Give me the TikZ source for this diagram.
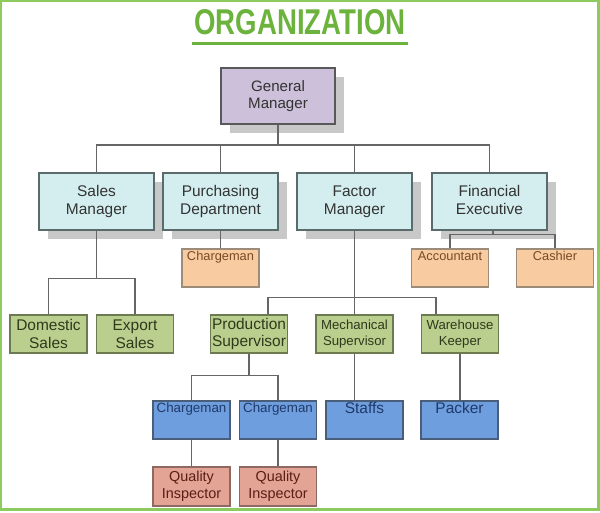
\documentclass[tikz,border=0pt]{standalone}
\usepackage{fontspec}
\setmainfont{Liberation Sans}
\usetikzlibrary{positioning,calc,shadows}
\definecolor{frame}{HTML}{8DCB5E}
\definecolor{ttl}{HTML}{6CB33E}
\definecolor{gmfill}{HTML}{CCC0DA}
\definecolor{cyanfill}{HTML}{D4EEF0}
\definecolor{boxline}{HTML}{5A6B6B}
\definecolor{shade}{HTML}{C8C8C8}
\definecolor{orng}{HTML}{F8CBA0}
\definecolor{orline}{HTML}{9C8B78}
\definecolor{orngtxt}{HTML}{7A4A25}
\definecolor{grn}{HTML}{BACF8E}
\definecolor{grline}{HTML}{6B7A50}
\definecolor{grtxt}{HTML}{2E3A1C}
\definecolor{blu}{HTML}{6E9EDD}
\definecolor{blline}{HTML}{4A5E7A}
\definecolor{bltxt}{HTML}{1F3A6B}
\definecolor{salm}{HTML}{E3A395}
\definecolor{saline}{HTML}{8C6A63}
\definecolor{satxt}{HTML}{5A1E14}
\definecolor{conn}{HTML}{666666}
\definecolor{txt}{HTML}{333333}

\begin{document}
\begin{tikzpicture}[x=0.02cm,y=-0.02cm,font=\fontsize{8.8}{10.2}\selectfont]
\tikzstyle{top}=[draw=boxline,line width=1.6pt,minimum width=2.3cm,minimum height=1.14cm,align=center,text=txt,drop shadow={shadow xshift=0.18cm,shadow yshift=-0.18cm,fill=shade,opacity=1}]
\tikzstyle{b}=[draw,line width=0.8pt,minimum width=1.54cm,minimum height=0.76cm,inner sep=1pt,align=center]
\tikzstyle{lbl}=[anchor=north,inner sep=1.5pt]
\tikzstyle{ln}=[draw=conn,line width=0.8pt]
\useasboundingbox (0,0) rectangle (600,512);
\draw[frame,line width=1.2pt] (1,1) rectangle (598.5,509.5);
% title
\node[text=ttl,font=\bfseries\fontsize{20.4}{22}\selectfont,inner sep=0] (title) at (300,22) {\scalebox{0.77}[1]{ORGANIZATION}};
\draw[ttl,line width=1.7pt] ($(title.south west)+(-2,8)$) -- ($(title.south east)+(2,8)$);
% boxes
\node[top,fill=gmfill,draw=black!65,minimum width=2.28cm,minimum height=1.12cm,font=\fontsize{8.6}{9.7}\selectfont] (gm) at (278,96) {General\\Manager};
\foreach \n/\x/\t in {sm/96.5/{Sales\\Manager},pd/220.5/{Purchasing\\Department},fm/354.5/{Factor\\Manager},fe/489.5/{Financial\\Executive\vphantom{g}}} \node[top,fill=cyanfill] (\n) at (\x,201.5) {\t};
\foreach \n/\x/\t in {pch/220.5/Chargeman,acc/450/Accountant,cas/555/Cashier} \node[b,fill=orng,draw=orline,label={[lbl,text=orngtxt,font=\fontsize{7.3}{8}\selectfont]north:\t}] (\n) at (\x,268) {};
\foreach \n/\x/\t in {ds/48.5/{Domestic\\Sales},es/135/{Export\\Sales},ps/249/{Production\\Supervisor}} \node[b,fill=grn,draw=grline,text=grtxt] (\n) at (\x,334) {\t};
\foreach \n/\x/\t in {ms/354.5/{Mechanical\\Supervisor},wk/460/{Warehouse\\Keeper}} \node[b,fill=grn,draw=grline,text=grtxt,font=\fontsize{7.5}{9.5}\selectfont] (\n) at (\x,334) {\t};
\foreach \n/\x in {c1/191.5,c2/278} \node[b,fill=blu,draw=blline,label={[lbl,text=bltxt,font=\fontsize{7.6}{8}\selectfont]north:Chargeman}] (\n) at (\x,420) {};
\foreach \n/\x/\t in {st/364.5/Staffs,pk/459.5/Packer} \node[b,fill=blu,draw=blline,label={[lbl,text=bltxt,inner sep=1pt]north:\t}] (\n) at (\x,420) {};
\foreach \n/\x in {q1/191.5,q2/278} \node[b,fill=salm,draw=saline,text=satxt,font=\fontsize{8.2}{9.8}\selectfont,minimum height=0.78cm] (\n) at (\x,486.5) {Quality\\Inspector};
% connectors
\coordinate (bus) at (278,145);
\draw[ln] (gm.south) -- (bus);
\foreach \n in {sm,pd,fm,fe} \draw[ln] (bus) -| (\n.north);
\foreach \n in {ds,es} \draw[ln] (sm.south) -- ++(0,47) -| (\n.north);
\draw[ln] (pd.south) -- (pch.north);
\foreach \n in {acc,cas} \draw[ln] ([xshift=0.07cm]fe.south) -- ++(0,3) -| (\n.north);
\foreach \n/\s in {ps/0.38cm,ms/0cm,wk/-0.48cm} \draw[ln] (fm.south) -- ++(0,66) -| ([xshift=\s]\n.north);
\foreach \n in {c1,c2} \draw[ln] (ps.south) -- ++(0,22) -| (\n.north);
\draw[ln] (ms.south) -- (ms.south |- st.north);
\draw[ln] (wk.south) -- (wk.south |- pk.north);
\draw[ln] (c1.south) -- (q1.north); \draw[ln] (c2.south) -- (q2.north);
\end{tikzpicture}
\end{document}
